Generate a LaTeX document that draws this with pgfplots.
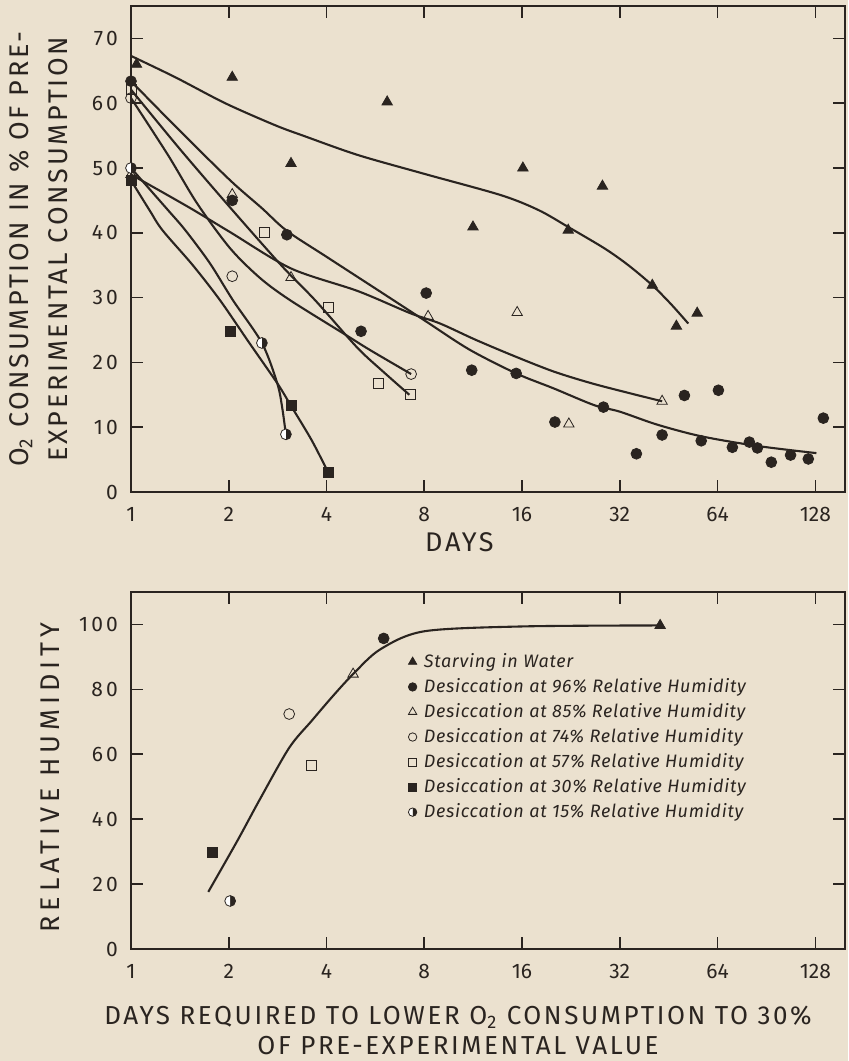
\documentclass[border=0pt]{standalone}
\usepackage{fontspec}
\setmainfont{Fira Sans}
\newfontfamily\lblfont[LetterSpace=10]{Fira Sans}
\newfontfamily\rhfont[LetterSpace=18]{Fira Sans}
\newfontfamily\ytickfont[LetterSpace=15]{Fira Sans}
\newfontfamily\legfont[LetterSpace=4]{Fira Sans}
\usepackage{pgfplots}
\pgfplotsset{compat=1.18}
\usetikzlibrary{plotmarks}
\definecolor{paper}{HTML}{EBE1CF}
\definecolor{ink}{HTML}{2A2420}

\pgfplotsset{
  fitline/.style={ink, line width=1.05pt, smooth, no markers, forget plot},
  datapts/.style={only marks, forget plot, ink, mark size=2.7pt},
}

\begin{document}
\begin{tikzpicture}
\path[use as bounding box, fill=paper] (-65.5pt,-284.5pt) rectangle (358.5pt,246pt);

% upper panel
\begin{axis}[scale only axis, width=357pt, height=243pt,
  at={(0,0)}, anchor=south west,
  xmode=log, log basis x=2, xmin=1, xmax=158,
  xtick={1,2,4,8,16,32,64,128},
  xticklabels={1,2,4,8,16,32,64,128},
  ymin=0, ymax=75, ytick={0,10,...,70},
  tick align=inside, major tick length=6pt,
  axis line style={ink, line width=0.9pt},
  tick style={ink, line width=0.8pt},
  ticklabel style={font=\fontsize{10.5}{12}\selectfont, text=ink},
  xticklabel style={yshift=-4pt},
  yticklabel style={xshift=-3pt, font=\ytickfont\fontsize{10.5}{12}\selectfont},
  clip=false,
  xlabel={DAYS},
  xlabel style={at={(axis description cs:0.46,0)}, anchor=center, yshift=-25pt,
    font=\lblfont\fontsize{13.5}{15}\selectfont, text=ink},
  ylabel={O\textsubscript{2} CONSUMPTION IN \% OF PRE-\\EXPERIMENTAL CONSUMPTION},
  ylabel style={align=center, at={(axis description cs:-0.130,0.5)}, anchor=center,
    font=\lblfont\fontsize{13.5}{19.5}\selectfont, text=ink},
  /pgf/number format/assume math mode=true,
]
% starving in water
\addplot[fitline] coordinates {(1,67.3) (1.37,64) (1.95,60) (2.78,56.6) (3.43,54.9) (5,52)
  (8,49.1) (13.8,45.8) (18,43.5) (22.2,40.9) (28.7,37.6) (34,35) (40.3,31.9) (46,29) (52,26)};
\addplot[datapts, mark=triangle*, mark size=3pt] coordinates {(1.04,66) (2.05,64) (3.11,50.7) (6.15,60.2)
  (11.3,40.9) (16.1,50) (22.2,40.4) (28.3,47.2) (40.3,31.9) (47.8,25.6) (55.4,27.6)};
% 96 %
\addplot[fitline] coordinates {(1,63.4) (1.41,55.8) (2.02,48.1) (2.53,43.8) (3.02,40.3) (4,36.3)
  (5.66,31.4) (8,26.5) (11,22) (15.35,18.3) (20,16) (26.7,13.4) (32,12.4) (41.7,10.4)
  (57,8.6) (85,7.1) (129,6.0)};
\addplot[datapts, mark=*] coordinates {(1,63.4) (2.05,45) (3.02,39.7) (5.11,24.8) (8.11,30.7)
  (11.2,18.8) (15.35,18.3) (20.2,10.8) (28.5,13.1) (36,5.9) (43.2,8.8) (50.6,14.9) (57,7.9)
  (64.4,15.7) (71.1,6.9) (80.2,7.7) (84.9,6.8) (93.7,4.6) (107.4,5.7) (121.8,5.1) (135.5,11.4)};
% 85 %
\addplot[fitline] coordinates {(1,49) (1.5,44) (2.02,40.1) (3.11,34.5) (5,31) (7.24,27.6)
  (8.95,26.0) (11.5,23.5) (15.1,21) (20,18.6) (26.1,16.8) (34,15.3) (43.2,14)};
\addplot[datapts, mark=triangle, mark size=3pt, mark options={fill=paper}] coordinates {(1,49) (2.05,45.9)
  (3.11,33.1) (8.22,27.1) (15.46,27.7) (22.3,10.5) (43.2,14)};
% 74 %
\addplot[fitline] coordinates {(1,60.8) (1.3,52) (1.6,44.5) (2.02,37.6) (2.5,33) (3.09,29.6)
  (4.6,24.2) (5.45,21.9) (7.29,18.2)};
\addplot[datapts, mark=o, mark options={fill=paper}] coordinates {(1,60.8) (2.05,33.3) (7.29,18.2)};
% 57 %
\addplot[fitline] coordinates {(1,62.1) (1.41,53) (2.02,43.9) (2.9,35) (3.69,29.6) (4.97,22.3)
  (6,18.5) (7.2,15)};
\addplot[datapts, mark=square, mark size=2.5pt, mark options={fill=paper}] coordinates {(1,62.1)
  (2.57,40) (4.05,28.5) (5.77,16.8) (7.24,15)};
% 30 %
\addplot[fitline] coordinates {(1,48.1) (1.14,43.5) (1.25,40.4) (1.55,35) (1.88,29.6) (2.3,23.2)
  (2.82,16.8) (3.11,13.3) (3.6,8) (4.05,3.0)};
\addplot[datapts, mark=square*, mark size=2.5pt] coordinates {(1,48.1) (2.02,24.8) (3.11,13.3) (4.05,3.0)};
% 15 %
\addplot[fitline] coordinates {(1,50) (1.3,43.5) (1.47,40.4) (1.75,35.3) (2.06,29.6) (2.53,23)
  (2.82,16.8) (2.92,13.1) (3.0,8.8)};
\addplot[datapts, mark=halfcircle*, mark options={fill=ink, rotate=-90}] coordinates {(1,50) (2.53,23) (3.0,8.9)};
\end{axis}

% lower panel
\begin{axis}[scale only axis, width=357pt, height=178.5pt,
  at={(0,-50pt)}, anchor=north west,
  xmode=log, log basis x=2, xmin=1, xmax=158,
  xtick={1,2,4,8,16,32,64,128},
  xticklabels={1,2,4,8,16,32,64,128},
  ymin=0, ymax=110, ytick={0,20,...,100},
  tick align=inside, major tick length=6pt,
  axis line style={ink, line width=0.9pt},
  tick style={ink, line width=0.8pt},
  ticklabel style={font=\fontsize{10.5}{12}\selectfont, text=ink},
  xticklabel style={yshift=-4pt},
  yticklabel style={xshift=-3pt, font=\ytickfont\fontsize{10.5}{12}\selectfont},
  clip=false,
  xlabel={DAYS REQUIRED TO LOWER O\textsubscript{2} CONSUMPTION TO 30\%\\OF PRE-EXPERIMENTAL VALUE},
  xlabel style={align=center, at={(axis description cs:0.458,0)}, anchor=center, yshift=-40.5pt,
    font=\lblfont\fontsize{13}{15}\selectfont, text=ink},
  ylabel={RELATIVE HUMIDITY},
  ylabel style={at={(axis description cs:-0.113,0.48)}, anchor=center,
    font=\rhfont\fontsize{13.5}{15}\selectfont, text=ink},
  legend style={at={(rel axis cs:0.388,0.832)}, anchor=north west, draw=none, fill=none,
    inner sep=0pt, row sep=3pt, text=ink, nodes={inner sep=0.5pt},
    font=\legfont\itshape\fontsize{9}{10}\selectfont},
  legend cell align=left,
  legend image code/.code={\draw[#1] plot coordinates {(0pt,0pt)};},
  /pgf/number format/assume math mode=true,
]
\addlegendimage{only marks, ink, mark=triangle*, mark size=2.4pt}
\addlegendentry{\hspace{3pt}Starving in Water}
\addlegendimage{only marks, ink, mark=*, mark size=2.1pt}
\addlegendentry{\hspace{3pt}Desiccation at 96\% Relative Humidity}
\addlegendimage{only marks, ink, mark=triangle, mark size=2.4pt}
\addlegendentry{\hspace{3pt}Desiccation at 85\% Relative Humidity}
\addlegendimage{only marks, ink, mark=o, mark size=2.1pt}
\addlegendentry{\hspace{3pt}Desiccation at 74\% Relative Humidity}
\addlegendimage{only marks, ink, mark=square, mark size=2pt}
\addlegendentry{\hspace{3pt}Desiccation at 57\% Relative Humidity}
\addlegendimage{only marks, ink, mark=square*, mark size=2pt}
\addlegendentry{\hspace{3pt}Desiccation at 30\% Relative Humidity}
\addlegendimage{only marks, ink, mark=halfcircle*, mark size=2.1pt, mark options={fill=ink, rotate=-90}}
\addlegendentry{\hspace{3pt}Desiccation at 15\% Relative Humidity}

\addplot[fitline] coordinates {(1.73,17.6) (2.13,33.5) (2.49,46) (3.07,62) (3.6,70.3) (4.19,78)
  (4.83,84.7) (5.85,92.3) (8,97.9) (16.2,99.4) (42.6,99.7)};
\addplot[datapts, mark=triangle*, mark size=3pt] coordinates {(42.6,99.7)};
\addplot[datapts, mark=*] coordinates {(6.0,95.7)};
\addplot[datapts, mark=triangle, mark size=3pt, mark options={fill=paper}] coordinates {(4.83,84.7)};
\addplot[datapts, mark=o, mark options={fill=paper}] coordinates {(3.07,72.4)};
\addplot[datapts, mark=square, mark size=2.5pt, mark options={fill=paper}] coordinates {(3.59,56.7)};
\addplot[datapts, mark=square*, mark size=2.5pt] coordinates {(1.78,29.8)};
\addplot[datapts, mark=halfcircle*, mark options={fill=ink, rotate=-90}] coordinates {(2.02,14.8)};
\end{axis}
\end{tikzpicture}
\end{document}
